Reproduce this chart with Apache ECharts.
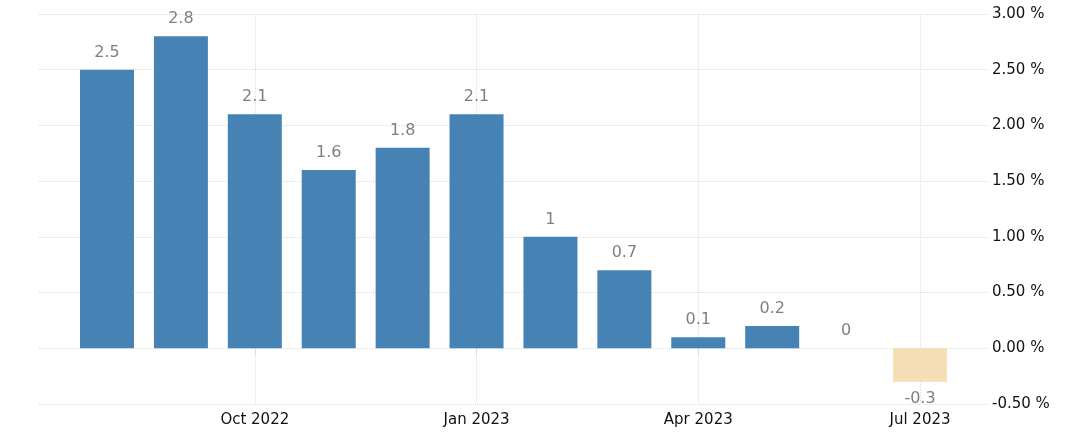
<!DOCTYPE html>
<html>
<head>
<meta charset="utf-8">
<script src="https://cdn.jsdelivr.net/npm/echarts@6/dist/echarts.min.js"></script>
<style>
  html, body { margin: 0; padding: 0; background: #fff; }
  #main { width: 1084px; height: 437px; }
</style>
</head>
<body>
<div id="main"></div>
<script>
var months = ['Aug 2022', 'Sep 2022', 'Oct 2022', 'Nov 2022', 'Dec 2022', 'Jan 2023',
              'Feb 2023', 'Mar 2023', 'Apr 2023', 'May 2023', 'Jun 2023', 'Jul 2023'];
var values = [2.5, 2.8, 2.1, 1.6, 1.8, 2.1, 1, 0.7, 0.1, 0.2, 0, -0.3];
var shownMonths = [2, 5, 8, 11];

var chart = echarts.init(document.getElementById('main'));

// bars: blue when >= 0, wheat when negative
var barData = [];
values.forEach(function (v, i) {
  barData.push({
    value: [i, v],
    itemStyle: { color: v < 0 ? '#f5deb3' : '#4682b4' },
    label: { position: v < 0 ? 'bottom' : 'top' }
  });
});

var option = {
  animation: false,
  grid: { left: 39, right: 96, top: 14, bottom: 33 },
  xAxis: {
    type: 'value',
    min: -0.92,
    max: 11.92,
    axisLine: { show: false },
    axisTick: { show: true, length: 6, customValues: shownMonths, lineStyle: { color: '#ddd' } },
    axisLabel: {
      customValues: shownMonths,
      color: '#111', fontSize: 15, fontFamily: 'DejaVu Sans', margin: 9,
      formatter: function (v) { return months[Math.round(v)]; }
    },
    splitLine: { show: true, lineStyle: { color: '#ddd', type: 'dotted' } }
  },
  yAxis: {
    type: 'value',
    position: 'right',
    min: -0.5,
    max: 3,
    interval: 0.5,
    axisLine: { show: false },
    axisTick: { show: false },
    axisLabel: {
      color: '#111', fontSize: 15, fontFamily: 'DejaVu Sans', margin: 4,
      formatter: function (v) { return v.toFixed(2) + ' %'; }
    },
    splitLine: { lineStyle: { color: '#ddd', type: 'dotted' } }
  },
  series: [{
    type: 'bar',
    barWidth: 54,
    data: barData,
    label: {
      show: true,
      distance: 9,
      color: '#808080',
      fontSize: 16,
      fontFamily: 'DejaVu Sans',
      formatter: function (p) { return String(p.value[1]); }
    }
  }]
};

chart.setOption(option);
</script>
</body>
</html>
